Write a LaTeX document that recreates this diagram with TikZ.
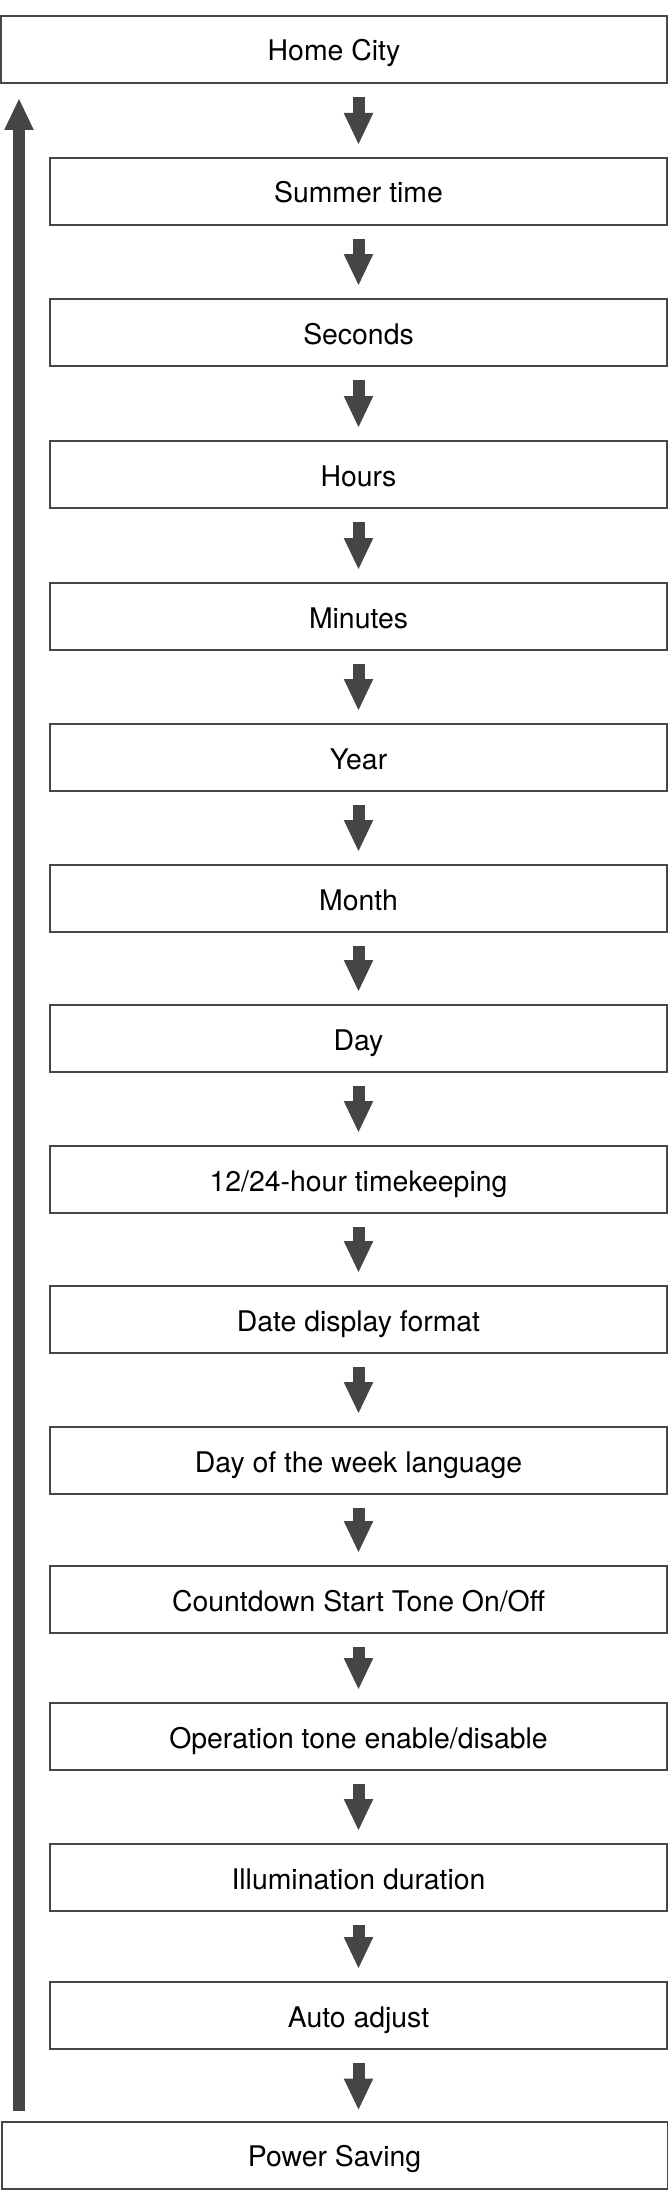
\documentclass[tikz,border=0pt]{standalone}
\usepackage{fontspec}
\setmainfont{TeX Gyre Heros}
\usetikzlibrary{arrows.meta}

\tikzset{
	stepbox/.style={draw=black!72, line width=2pt, fill=white, rectangle,
		minimum height=67pt, inner sep=0pt, text height=23pt, text depth=0pt,
		font=\fontsize{28.4}{34}\selectfont},
	widebox/.style={stepbox, minimum width=666pt},
	innerbox/.style={stepbox, minimum width=617pt},
	flowarrow/.style={draw=black!73, line width=12pt,
		-{Triangle[width=27pt,length=32pt]}}
}

\begin{document}
\begin{tikzpicture}[x=1pt,y=-1pt]
		\useasboundingbox (0,0) rectangle (668,2202);

		\node[widebox] (home) at (334,49.5) {Home City};
		\node[innerbox] (summer) at (358.5,191.5) {Summer time};
		\node[innerbox] (seconds) at (358.5,332.5) {Seconds};
		\node[innerbox] (hours) at (358.5,474.5) {Hours};
		\node[innerbox] (minutes) at (358.5,616.5) {Minutes};
		\node[innerbox] (year) at (358.5,757.5) {Year};
		\node[innerbox] (month) at (358.5,898.5) {Month};
		\node[innerbox] (day) at (358.5,1038.5) {Day};
		\node[innerbox] (hourfmt) at (358.5,1179.5) {12/24-hour timekeeping};
		\node[innerbox] (datefmt) at (358.5,1319.5) {Date display format};
		\node[innerbox] (wdaylang) at (358.5,1460.5) {Day of the week language};
		\node[innerbox] (cdtone) at (358.5,1599.5) {Countdown Start Tone On/Off};
		\node[innerbox] (optone) at (358.5,1736.5) {Operation tone enable/disable};
		\node[innerbox] (illum) at (358.5,1877.5) {Illumination duration};
		\node[innerbox] (autoadj) at (358.5,2015.5) {Auto adjust};
		\node[widebox] (power) at (334.5,2155) {Power Saving};

		\draw[flowarrow, shorten <=13pt, shorten >=12pt] (home.south -| summer.north) -- (summer.north);
		\draw[flowarrow, shorten <=13pt, shorten >=12pt] (summer.south) -- (seconds.north);
		\draw[flowarrow, shorten <=13pt, shorten >=12pt] (seconds.south) -- (hours.north);
		\draw[flowarrow, shorten <=13pt, shorten >=12pt] (hours.south) -- (minutes.north);
		\draw[flowarrow, shorten <=13pt, shorten >=12pt] (minutes.south) -- (year.north);
		\draw[flowarrow, shorten <=13pt, shorten >=12pt] (year.south) -- (month.north);
		\draw[flowarrow, shorten <=13pt, shorten >=12pt] (month.south) -- (day.north);
		\draw[flowarrow, shorten <=13pt, shorten >=12pt] (day.south) -- (hourfmt.north);
		\draw[flowarrow, shorten <=13pt, shorten >=12pt] (hourfmt.south) -- (datefmt.north);
		\draw[flowarrow, shorten <=13pt, shorten >=12pt] (datefmt.south) -- (wdaylang.north);
		\draw[flowarrow, shorten <=13pt, shorten >=12pt] (wdaylang.south) -- (cdtone.north);
		\draw[flowarrow, shorten <=13pt, shorten >=12pt] (cdtone.south) -- (optone.north);
		\draw[flowarrow, shorten <=13pt, shorten >=12pt] (optone.south) -- (illum.north);
		\draw[flowarrow, shorten <=13pt, shorten >=12pt] (illum.south) -- (autoadj.north);
		\draw[flowarrow, shorten <=13pt, shorten >=10pt] (autoadj.south) -- (autoadj.south |- power.north);

		% return path on the left
		\coordinate (back) at (19,0);
		\draw[flowarrow, shorten <=10pt, shorten >=14pt] (power.north -| back) -- (home.south -| back);
	\end{tikzpicture}
\end{document}
